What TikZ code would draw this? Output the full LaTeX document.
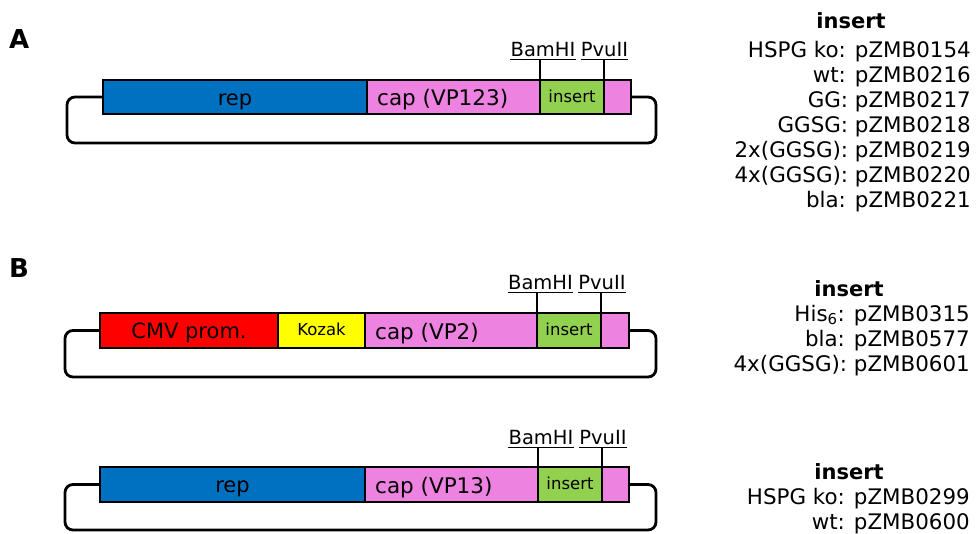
\documentclass[tikz,border=0pt]{standalone}
\usepackage{fontspec}
\setmainfont{DejaVu Sans}
\definecolor{repblue}{HTML}{0070C0}
\definecolor{cappink}{HTML}{EE82E0}
\definecolor{insgreen}{HTML}{92D050}
\definecolor{cmvred}{HTML}{FF0000}
\definecolor{kozyellow}{HTML}{FFFF00}
\tikzset{
 seg/.style={draw, line width=2.4pt, inner sep=0pt, outer sep=0pt, anchor=north west, minimum height=34pt},
 lbl/.style={font=\fontsize{21}{25}\selectfont, text height=16pt, text depth=0pt},
 smalllbl/.style={font=\fontsize{16.5}{19}\selectfont, text height=10pt, text depth=0pt},
 caplbl/.style={font=\fontsize{21.5}{25}\selectfont, inner sep=0pt, anchor=base west},
 enz/.style={font=\fontsize{19.5}{22}\selectfont, inner sep=0pt, anchor=base},
 loopline/.style={line width=2.8pt, rounded corners=8pt},
 tickline/.style={line width=1.6pt},
 col/.style={font=\fontsize{21.4}{25}\selectfont, anchor=base east, inner sep=0pt},
 head/.style={font=\bfseries\fontsize{21}{25}\selectfont, anchor=base, inner sep=0pt},
 panel/.style={font=\bfseries\fontsize{26}{30}\selectfont, anchor=base west, inner sep=0pt},
}
\begin{document}
\begin{tikzpicture}[x=1pt,y=-1pt]
\useasboundingbox (0,0) rectangle (976,533);
% ---------- A ----------
\node[panel] (pA) at (9,48) {A};
\coordinate (lA) at (67,143);
\coordinate (rA) at (656,143);
\node[seg, fill=repblue, minimum width=264pt, lbl] (repA) at (103,80) {rep};
\node[seg, fill=cappink, minimum width=173pt] (capA) at (367,80) {};
\node[seg, fill=insgreen, minimum width=64pt, smalllbl] (insA) at (540,80) {insert};
\node[seg, fill=cappink, minimum width=27pt] (endA) at (604,80) {};
\node[caplbl] (capAl) at ([xshift=10pt,yshift=-8pt]capA.west) {cap (VP123)};
\draw[loopline] (repA.west) -| (lA) -- (rA) |- (endA.east);
\node[enz] (bamA) at (543,56) {BamHI};
\node[enz] (pvuA) at (604.5,56) {PvuII};
\coordinate (ubA) at ([yshift=-3.5pt]bamA.base);
\coordinate (upA) at ([yshift=-3.5pt]pvuA.base);
\draw[tickline] (bamA.base west |- ubA) -- (bamA.base east |- ubA);
\draw[tickline] (pvuA.base west |- upA) -- (pvuA.base east |- upA);
\draw[tickline] (insA.north west) -- (insA.north west |- ubA);
\draw[tickline] (insA.north east) -- (insA.north east |- upA);
\node[head] (hA) at (851,28) {insert};
\node[col] (a1) at (971,57) {HSPG ko: pZMB0154};
\node[col] (a2) at (971,82) {wt: pZMB0216};
\node[col] (a3) at (971,107) {GG: pZMB0217};
\node[col] (a4) at (971,132) {GGSG: pZMB0218};
\node[col] (a5) at (971,157) {2x(GGSG): pZMB0219};
\node[col] (a6) at (971,182) {4x(GGSG): pZMB0220};
\node[col] (a7) at (971,207) {bla: pZMB0221};
% ---------- B ----------
\node[panel] (pB) at (9,277) {B};
\coordinate (lB) at (65,377);
\coordinate (rB) at (656,377);
\node[seg, fill=cmvred, minimum width=178pt, minimum height=35pt, lbl] (cmvB) at (100,313) {CMV prom.};
\node[seg, fill=kozyellow, minimum width=87pt, minimum height=35pt, smalllbl] (kozB) at (278,313) {Kozak};
\node[seg, fill=cappink, minimum width=172pt, minimum height=35pt] (capB) at (365,313) {};
\node[seg, fill=insgreen, minimum width=64pt, minimum height=35pt, smalllbl] (insB) at (537,313) {insert};
\node[seg, fill=cappink, minimum width=28pt, minimum height=35pt] (endB) at (601,313) {};
\node[caplbl] (capBl) at ([xshift=10pt,yshift=-9pt]capB.west) {cap (VP2)};
\draw[loopline] (cmvB.west) -| (lB) -- (rB) |- (endB.east);
\node[enz] (bamB) at (540.5,289) {BamHI};
\node[enz] (pvuB) at (602,289) {PvuII};
\coordinate (ubB) at ([yshift=-3.5pt]bamB.base);
\coordinate (upB) at ([yshift=-3.5pt]pvuB.base);
\draw[tickline] (bamB.base west |- ubB) -- (bamB.base east |- ubB);
\draw[tickline] (pvuB.base west |- upB) -- (pvuB.base east |- upB);
\draw[tickline] (insB.north west) -- (insB.north west |- ubB);
\draw[tickline] (insB.north east) -- (insB.north east |- upB);
\node[head] (hB) at (849,296) {insert};
\node[col] (b1) at (970,321) {His\textsubscript{6}: pZMB0315};
\node[col] (b2) at (970,346) {bla: pZMB0577};
\node[col] (b3) at (970,371) {4x(GGSG): pZMB0601};
% ---------- C ----------
\coordinate (lC) at (65,530);
\coordinate (rC) at (656,530);
\node[seg, fill=repblue, minimum width=265pt, minimum height=35pt, lbl] (repC) at (100,467) {rep};
\node[seg, fill=cappink, minimum width=173pt, minimum height=35pt] (capC) at (365,467) {};
\node[seg, fill=insgreen, minimum width=64pt, minimum height=35pt, smalllbl] (insC) at (538,467) {insert};
\node[seg, fill=cappink, minimum width=27pt, minimum height=35pt] (endC) at (602,467) {};
\node[caplbl] (capCl) at ([xshift=10pt,yshift=-9pt]capC.west) {cap (VP13)};
\draw[loopline] (repC.west) -| (lC) -- (rC) |- (endC.east);
\node[enz] (bamC) at (541,444) {BamHI};
\node[enz] (pvuC) at (603,444) {PvuII};
\coordinate (ubC) at ([yshift=-3.5pt]bamC.base);
\coordinate (upC) at ([yshift=-3.5pt]pvuC.base);
\draw[tickline] (bamC.base west |- ubC) -- (bamC.base east |- ubC);
\draw[tickline] (pvuC.base west |- upC) -- (pvuC.base east |- upC);
\draw[tickline] (insC.north west) -- (insC.north west |- ubC);
\draw[tickline] (insC.north east) -- (insC.north east |- upC);
\node[head] (hC) at (849,479) {insert};
\node[col] (c1) at (970,504) {HSPG ko: pZMB0299};
\node[col] (c2) at (970,529) {wt: pZMB0600};
\end{tikzpicture}
\end{document}
